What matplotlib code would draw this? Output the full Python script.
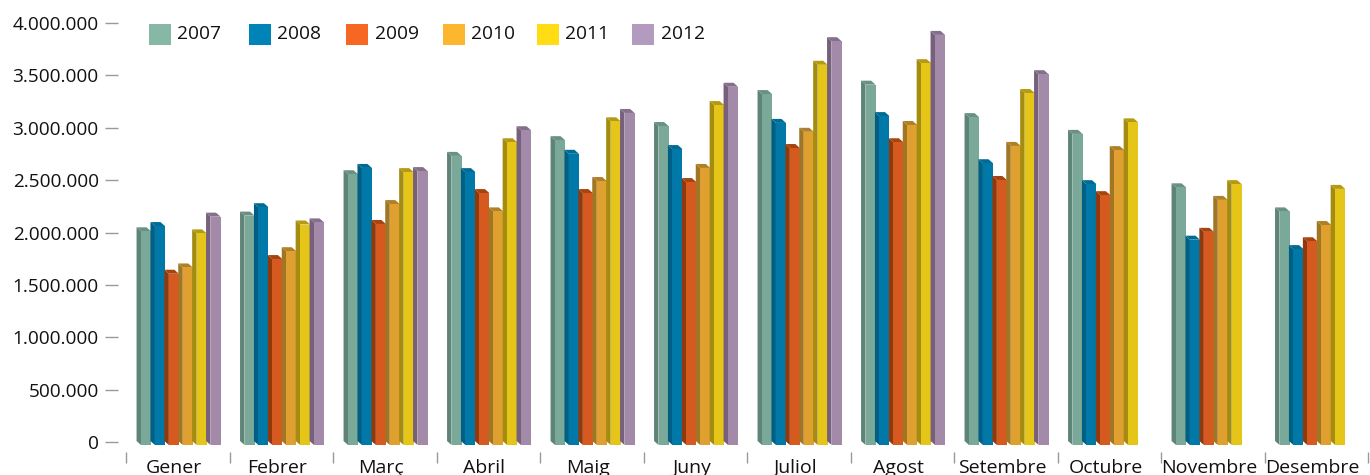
import matplotlib
matplotlib.use("Agg")
import matplotlib.pyplot as plt
from matplotlib.patches import Rectangle
from matplotlib.ticker import FixedLocator, FuncFormatter, NullFormatter

plt.rcParams['font.family'] = ['Open Sans', 'DejaVu Sans']

months = ["Gener", "Febrer", "Març", "Abril", "Maig", "Juny", "Juliol", "Agost",
          "Setembre", "Octubre", "Novembre", "Desembre"]
years = ["2007", "2008", "2009", "2010", "2011", "2012"]
v2007 = [2.04, 2.19, 2.585, 2.76, 2.91, 3.045, 3.35, 3.44, 3.13, 2.97, 2.46, 2.23]
v2008 = [2.09, 2.27, 2.645, 2.605, 2.78, 2.825, 3.075, 3.14, 2.69, 2.49, 1.96, 1.87]
v2009 = [1.635, 1.775, 2.11, 2.405, 2.405, 2.51, 2.835, 2.89, 2.53, 2.385, 2.035, 1.945]
v2010 = [1.695, 1.85, 2.30, 2.23, 2.52, 2.645, 2.99, 3.055, 2.855, 2.815, 2.34, 2.10]
v2011 = [2.02, 2.105, 2.605, 2.89, 3.09, 3.245, 3.63, 3.645, 3.36, 3.08, 2.49, 2.445]
v2012 = [2.18, 2.125, 2.615, 3.005, 3.17, 3.42, 3.855, 3.915, 3.54, None, None, None]
series = [v2007, v2008, v2009, v2010, v2011, v2012]
yticks = [0, 500000, 1000000, 1500000, 2000000, 2500000, 3000000, 3500000, 4000000]

legend_colors = ["#85B8A5", "#0083B7", "#F56722", "#FDB72E", "#FFDC14", "#B29BBF"]
front = ["#7AA899", "#0079A8", "#D65A20", "#E0A030", "#E4C518", "#A38AA8"]
side = ["#5E8377", "#005F85", "#8F3A0E", "#A07524", "#A38C10", "#76607C"]
top = ["#6A9081", "#006C96", "#A5440F", "#B08028", "#B39A12", "#85708C"]
legend_x = [149, 249, 346, 443, 537, 632]

W, H = 1370, 475
fig = plt.figure(figsize=(W / 100, H / 100), dpi=100)
AX_L, AX_BOT, AX_TOP = 118, 452, 0
ax = fig.add_axes([AX_L / W, (H - AX_BOT) / H, (W - AX_L) / W, (AX_BOT - AX_TOP) / H])
PX_X = 103.5
PX_Y = 104.75 / 1000000
Y0, CX0 = 442, 178
for s in ax.spines.values():
    s.set_visible(False)

dx = 4.5 / PX_X      # depth of the pseudo-3D bars
dy = 4 / PX_Y
shift = 3 / PX_Y
step = 13.9 / PX_X
bw = 10 / PX_X
for k, vals in enumerate(series):
    for i, v in enumerate(vals):
        if v is None:
            continue
        val = v * 1e6
        x0 = i + (k - 2.5) * step - bw / 2 + 2.8 / PX_X
        y1 = val - shift
        ybot = -shift
        ax.fill([x0 - dx, x0, x0, x0 - dx],
                [ybot + dy, ybot, y1, y1 + dy], color=side[k], lw=0, zorder=3 + k, clip_on=False)
        ax.fill([x0 - dx, x0 + bw - dx, x0 + bw, x0],
                [y1 + dy, y1 + dy, y1, y1], color=top[k], lw=0, zorder=3 + k, clip_on=False)
        ax.bar(x0, y1 - ybot, width=bw, bottom=ybot, align='edge', color=front[k], lw=0,
               zorder=3 + k, clip_on=False)

ax.set_xlim((AX_L - CX0) / PX_X, (W - CX0) / PX_X)
ax.set_ylim((Y0 - AX_BOT) / PX_Y, (Y0 - AX_TOP) / PX_Y)

ax.set_yticks(yticks)
ax.yaxis.set_major_formatter(FuncFormatter(lambda v, p: f"{int(v):,}".replace(",", ".")))
ax.tick_params(axis='y', length=9.4, width=1, color="#999999", pad=4.5, labelsize=13.7, labelcolor="#111111")
ax.set_xticks([i - 4 / PX_X for i in range(len(months))])
ax.set_xticklabels(months)
ax.tick_params(axis='x', which='major', length=0, pad=5, labelsize=14, labelcolor="#111111")
ax.xaxis.set_minor_locator(FixedLocator([i - 0.5 for i in range(len(months) + 1)]))
ax.xaxis.set_minor_formatter(NullFormatter())
ax.tick_params(axis='x', which='minor', length=8, width=1, color="#999999")

for k, y in enumerate(years):
    fig.add_artist(Rectangle((legend_x[k] / W, (H - 45) / H), 22 / W, 21 / H,
                             transform=fig.transFigure, color=legend_colors[k], lw=0))
    fig.text((legend_x[k] + 28.5) / W, (H - 34) / H, y, fontsize=13.8, va='center', ha='left', color="#111111")

fig.savefig("out.png", dpi=100)
